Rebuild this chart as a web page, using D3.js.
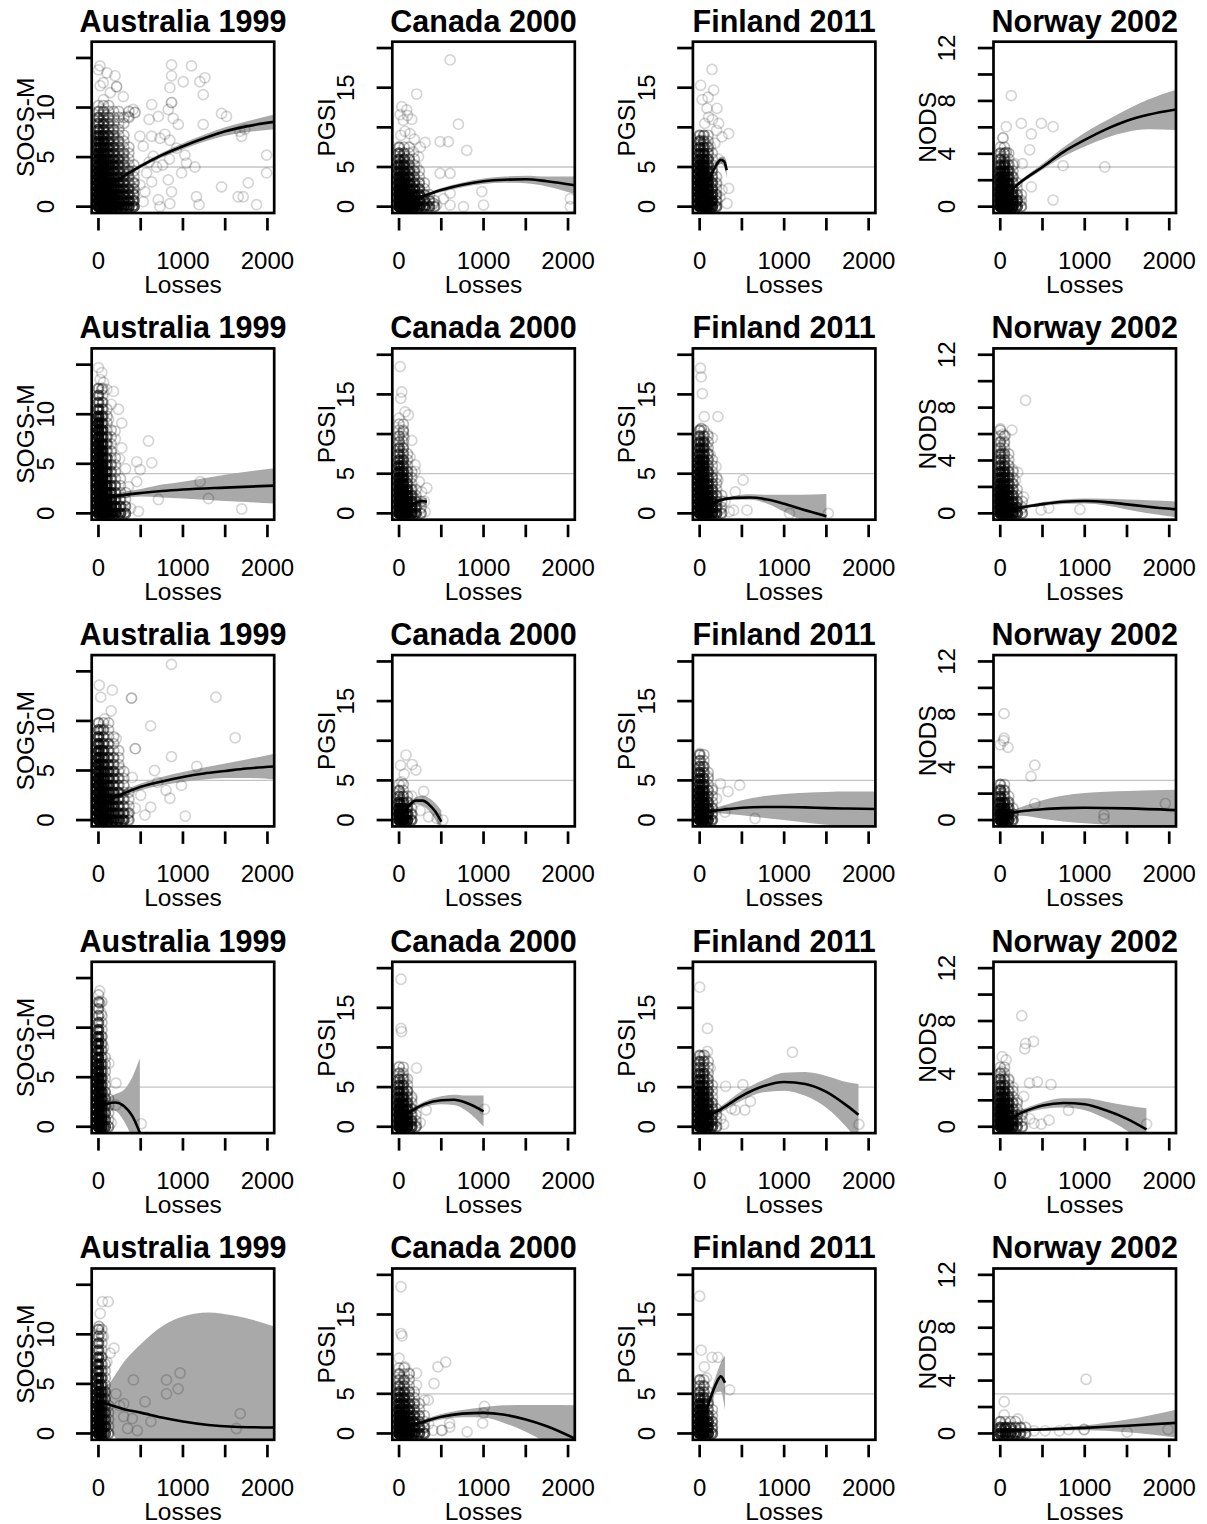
<!DOCTYPE html>
<html>
<head>
<meta charset="utf-8">
<script src="https://cdn.jsdelivr.net/npm/d3@7"></script>
<style>
  body { margin: 0; background: #fff; }
  text { font-family: "Liberation Sans", Arial, sans-serif; fill: #000; }
</style>
</head>
<body>
<div id="chart"></div>
<script>
// ---- chart data ----
var countries = ["Australia 1999", "Canada 2000", "Finland 2011", "Norway 2002"];
var scaleNames = ["SOGS-M", "PGSI", "PGSI", "NODS"];
var scaleMax = [16, 20, 20, 12];
var scaleCutoff = [4, 5, 5, 3];
var xRange = [0, 2000];
var xTicks = [0, 500, 1000, 1500, 2000];
var xTickLabels = [0, 1000, 2000];
var yTicks = [[0, 5, 10, 15], [0, 5, 10, 15, 20], [0, 5, 10, 15, 20], [0, 2, 4, 6, 8, 10, 12]];
var yTickLabels = [[0, 5, 10], [0, 5, 15], [0, 5, 15], [0, 4, 8, 12]];

// scattered respondents: [losses, score, count]
var pointsRow1 = [
  [[18,14.2,1],[57,12.5,1],[196,13.2,1],[215,12.1,2],[294,11.1,1],[865,14.3,1],[865,13.2,1],[845,12,1],[1003,12.6,1],[1101,14.2,1],[1200,12.6,1],[1260,13,1],[1240,11.3,1],[630,10.3,1],[708,9.1,1],[865,10.5,2],[826,9.8,1],[885,8.9,1],[945,8.3,1],[786,7.3,1],[845,6.7,1],[925,5.9,1],[1023,5.2,1],[1042,4.4,1],[1141,4,1],[984,3.4,1],[826,2.7,1],[865,1.5,1],[845,0.3,1],[1160,1,1],[1190,0.2,1],[1457,9.4,1],[1516,9.1,1],[1674,7.6,1],[1694,7.1,1],[1733,7.8,1],[1457,2,1],[1654,1,1],[1713,1,1],[1773,2.4,1],[1871,0.2,1],[1990,5.2,1],[1990,3.4,1],[1240,8.3,1],[412,9.8,1],[353,9.1,1],[432,9.5,2],[491,7.1,1],[530,6.1,1],[630,7.1,1],[728,6.9,1],[648,5.1,1],[688,4,1],[569,3.4,1],[630,2.5,1],[491,2.2,1],[412,1.3,1],[530,0.5,1],[708,0.7,1],[728,0,1],[550,1.5,1],[600,4.5,1],[760,4.2,1],[840,4.8,1],[600,8.8,1],[0,13.8,1],[20,12.2,1],[100,13.5,1],[140,11.5,1],[60,10.8,1]],
  [[604,18.5,1],[209,14.2,1],[32,12.6,1],[91,12.2,1],[12,11.6,1],[51,10.9,1],[702,10.4,1],[584,8.2,1],[486,8.2,1],[308,8.1,1],[801,7.1,1],[130,9.2,1],[170,6.9,1],[229,6.3,1],[209,5,1],[486,4.2,1],[604,4.2,1],[604,1.7,1],[604,0.2,1],[762,0,1],[980,1.9,1],[1000,0.2,1],[525,1,1],[446,0.2,1],[407,0.4,2],[328,0.2,2],[2027,1,1],[2027,0,1],[150,11,1],[100,11.5,1],[70,9.5,1],[20,9,1],[180,8.5,1],[250,7.5,1]],
  [[146,17.3,1],[12,15.3,1],[166,14.7,1],[205,12.4,1],[87,12.4,1],[106,11.3,1],[225,10.5,1],[343,9.2,1],[264,8.8,1],[8,8.4,1],[126,7.6,1],[343,2.3,1],[264,2.1,1],[323,0.4,1],[200,9.6,1],[60,10.5,1],[150,11,1],[30,13.5,1],[100,13.8,1],[180,8,1],[220,6,1],[240,1.2,1],[200,2.8,1]],
  [[130,8.4,1],[71,6.05,1],[249,6.3,1],[486,6.3,1],[625,6.05,1],[368,5.5,1],[32,5.2,2],[348,4.3,1],[71,4.1,2],[51,3.25,2],[170,3.25,1],[261,3.25,1],[743,3.1,1],[1237,3,1],[368,1.5,1],[625,0.5,1],[229,0.4,1],[150,0.4,2],[130,2.5,1],[200,0.5,1]]
];
var pointsRow2 = [
  [[0,14.7,1],[39,14.2,1],[20,13.5,1],[39,12.5,2],[99,12.5,1],[60,13.2,1],[178,12.3,1],[237,10.5,1],[276,9.1,1],[197,8.3,1],[276,6.6,1],[592,7.3,1],[631,5.1,1],[454,5.2,1],[454,3.2,1],[493,4.4,1],[355,2.7,1],[237,2,1],[473,0.2,1],[710,1.4,1],[1203,3.2,1],[1302,1.5,1],[1696,0.44,1],[217,0.5,1],[300,0.4,1],[380,0.5,1],[150,11,1],[120,9.5,1],[200,7.5,1],[250,5.5,1],[320,4.5,1],[150,6.2,1]],
  [[12,18.5,1],[32,15.3,1],[20,14.5,1],[71,12.8,1],[110,12.4,1],[0,12,1],[51,10.3,2],[150,9.2,1],[60,9.5,1],[130,7.1,1],[190,6.1,1],[190,5.3,1],[328,3.2,1],[268,2.7,1],[308,0.2,1],[250,0.5,1],[200,1.8,1],[300,1.5,1],[240,4,1]],
  [[9,18.3,1],[18,17.2,1],[32,15.1,1],[55,12.2,1],[216,12.2,1],[18,10.7,2],[78,8.4,1],[124,7.4,1],[193,5.9,1],[216,4.2,1],[514,4.2,1],[422,2.7,1],[560,0.4,1],[400,0.4,1],[1064,0,1],[1523,0,1],[300,1.5,1],[250,0.5,1],[350,0.2,1],[150,9.5,1],[90,10,1]],
  [[299,8.55,1],[138,6.3,1],[0,6.4,1],[46,5.3,1],[23,4.5,2],[207,3.1,1],[276,1.25,1],[483,0.25,1],[575,0.4,1],[943,0.3,1],[115,2.1,1],[60,5.9,1],[30,6,1],[180,2.5,1],[250,0.3,1],[150,3.3,1],[100,3.6,1]]
];
var pointsRow3 = [
  [[864,15.7,1],[9,13.6,1],[27,12.4,1],[164,13.1,1],[391,12.3,2],[1391,12.4,1],[618,9.5,1],[1618,8.3,1],[73,10.2,1],[27,9.1,2],[209,8.2,1],[436,7.2,2],[864,6.4,1],[255,5.2,1],[664,5,1],[982,3.5,1],[1164,5.4,1],[800,3,1],[845,2.2,1],[618,1.3,1],[1027,0.4,1],[436,1.2,1],[350,0.3,1],[500,2.5,1],[300,3.5,1],[150,11,1],[400,4.3,1],[550,0.5,1],[700,3.8,1]],
  [[82,8.2,1],[18,6.9,1],[155,7,1],[200,6.3,1],[60,5.8,1],[30,4.8,1],[0,3.6,1],[291,3.6,1],[20,2,1],[518,0,1],[250,1.2,1],[350,0.4,1],[150,3,1],[450,0.2,1]],
  [[0,8.4,1],[10,7.5,1],[36,6.7,1],[245,4.6,1],[473,4.4,1],[336,3.6,1],[200,2.7,1],[655,0.2,1],[100,5.5,1],[150,4,1],[60,2.2,1],[300,1,1]],
  [[45,8.05,1],[45,6.2,1],[0,5.7,1],[91,5.5,1],[409,4.15,1],[364,3.3,1],[0,2.3,2],[91,1.25,1],[409,1.25,1],[1227,0.4,1],[1227,0.1,1],[1954,1.25,1],[40,6,1],[150,0.3,1]]
];
var pointsRow4 = [
  [[14,13.7,1],[14,12.5,2],[124,6.4,1],[207,4.4,1],[207,2.2,1],[506,0.3,1],[150,0.4,1],[30,11.5,1],[60,8,1]],
  [[23,18.6,1],[23,12.4,1],[30,12,1],[207,7.4,1],[0,7.6,1],[40,6.5,1],[322,2.1,1],[1011,2.2,1],[207,0.2,1],[150,3.5,1],[250,0.5,1],[100,4.5,1],[70,6,1]],
  [[0,17.6,1],[92,12.4,1],[1098,9.4,1],[92,9.5,1],[124,7.4,1],[307,5.1,1],[512,5.3,1],[375,2.3,1],[420,2.1,1],[535,2.1,1],[600,3.2,1],[284,0.3,1],[1885,0.3,1],[200,1.5,1],[150,2.5,1],[60,9,1],[30,8.9,1],[100,5.5,1],[250,1,1]],
  [[254,8.4,1],[300,6.3,1],[393,6.45,1],[290,5.9,1],[23,5.3,1],[69,5.05,1],[20,4.2,1],[346,3.3,1],[439,3.4,1],[600,3.2,1],[277,2.3,1],[808,1.25,1],[485,0.2,1],[577,0.5,1],[400,0.25,1],[1732,0.2,1],[150,3,1],[200,2,1],[350,0.6,1],[250,1,1],[100,3.5,1]]
];
var pointsRow5 = [
  [[46,13.3,1],[115,13.3,1],[20,12.1,1],[5,10.8,2],[20,10.1,1],[60,9.8,1],[184,8.6,1],[138,8.1,1],[100,7.2,1],[414,5.4,1],[805,5.4,1],[966,6.1,1],[943,4.5,1],[805,4,1],[552,3.2,1],[621,1.2,1],[299,1.7,1],[345,0.5,1],[460,0.3,1],[1632,0.5,1],[1678,2,1],[207,4,1],[250,2.8,1],[400,1.5,1],[300,3,1]],
  [[23,18.5,1],[23,12.6,1],[35,12.3,1],[0,9.5,1],[69,8.4,1],[120,7.6,1],[552,9,1],[460,8.4,1],[207,7.6,1],[414,6.3,1],[207,6.1,1],[300,4.2,1],[345,4.2,1],[1011,3.4,1],[989,1.3,1],[598,1.3,1],[805,0.2,1],[506,0.4,2],[400,0.4,1],[600,0.8,1],[350,1.2,1],[1000,2.6,1]],
  [[0,17.3,1],[18,10.5,1],[55,8.4,1],[147,9.6,1],[216,9.6,1],[120,2.1,1],[355,5.5,1],[150,0.4,1],[80,7,1],[100,4,1]],
  [[46,2.4,1],[46,1.4,1],[208,1.1,1],[1016,4.1,1],[531,0.2,1],[808,0.3,1],[993,0.3,2],[1501,0.1,1],[1986,0.3,1],[700,0.2,1],[400,0.2,1]]
];

// overplotted cores near zero losses: respondent counts on a losses x score grid
var denseRow1 = [
  {xs: [0,60,120,180,240,300,360,420], ys: [0,0.6,1.2,1.8,2.4,3,3.6,4.2,4.8,5.4,6,6.6,7.2,7.8,8.4,9,9.6,10.2],
   counts: [[12,12,12,10,8,6,5,4],[12,12,10,8,6,5,4,3],[12,12,10,8,6,4,3,2],[12,10,8,6,5,4,3,2],[10,10,8,6,4,3,2,2],[10,8,6,5,4,3,2,1],[10,8,6,4,3,2,2,1],[8,8,6,4,3,2,1,1],[8,6,5,4,3,2,1,0],[8,6,4,3,2,2,1,0],[6,6,4,3,2,1,1,0],[6,5,3,2,2,1,0,0],[5,4,3,2,1,1,0,0],[4,3,2,2,1,0,0,0],[3,3,2,1,1,1,0,0],[3,2,2,1,1,1,1,0],[2,2,1,1,1,0,1,0],[1,1,1,0,0,0,0,0]]},
  {xs: [0,60,120,180,240,300,360,420], ys: [0,0.75,1.5,2.25,3,3.75,4.5,5.25,6,6.75,7.5],
   counts: [[12,12,12,10,6,4,3,2],[12,12,10,8,5,3,2,1],[12,12,8,6,4,2,1,0],[12,10,6,4,3,1,0,0],[10,8,5,3,2,1,0,0],[8,6,4,2,1,0,0,0],[6,5,3,2,1,0,0,0],[5,4,2,1,0,0,0,0],[4,3,2,1,0,0,0,0],[3,2,1,0,0,0,0,0],[2,1,1,0,0,0,0,0]]},
  {xs: [0,50,100,150,200], ys: [0,0.75,1.5,2.25,3,3.75,4.5,5.25,6,6.75,7.5,8.25,9],
   counts: [[12,12,10,6,3],[12,12,10,5,2],[12,12,8,4,2],[12,10,6,3,1],[12,10,6,3,1],[10,8,5,2,1],[10,8,4,2,0],[8,6,3,1,0],[6,5,3,1,0],[5,4,2,1,0],[4,3,2,0,0],[3,2,1,0,0],[2,2,1,0,0]]},
  {xs: [0,50,100,150,200,250], ys: [0,0.45,0.9,1.35,1.8,2.25,2.7,3.15,3.6,4.05,4.5],
   counts: [[12,12,12,8,4,2],[12,12,10,6,3,1],[12,12,8,4,2,1],[12,10,6,3,1,0],[10,8,5,2,1,0],[8,6,4,2,0,0],[6,5,3,1,0,0],[4,4,2,1,0,0],[3,2,1,0,0,0],[2,2,1,0,0,0],[1,1,0,0,0,0]]}
];
var denseRow2 = [
  {xs: [0,50,100,150,200,260,320], ys: [0,0.7,1.4,2.1,2.8,3.5,4.2,4.9,5.6,6.3,7,7.7,8.4,9.1,9.8,10.5,11.2,11.9,12.6],
   counts: [[12,12,10,8,6,4,3],[12,12,10,6,4,3,2],[12,12,8,5,3,2,1],[12,12,6,4,2,1,1],[12,10,5,3,2,1,0],[12,10,4,2,1,1,0],[12,8,4,2,1,0,0],[12,8,3,2,1,0,0],[10,6,3,1,1,0,0],[10,6,2,1,0,0,0],[10,5,2,1,0,0,0],[8,4,2,1,0,0,0],[8,4,1,1,0,0,0],[8,3,1,0,0,0,0],[6,3,1,0,0,0,0],[4,2,1,0,0,0,0],[3,2,0,0,0,0,0],[3,1,0,0,0,0,0],[2,1,0,0,0,0,0]]},
  {xs: [0,50,100,150,200,260], ys: [0,0.75,1.5,2.25,3,3.75,4.5,5.25,6,6.75,7.5,8.25,9,9.75,10.5,11.25],
   counts: [[12,12,10,6,4,2],[12,12,8,5,3,1],[12,12,6,4,2,1],[12,10,5,3,1,0],[12,8,4,2,1,0],[10,6,3,1,0,0],[8,5,2,1,0,0],[6,4,2,1,0,0],[5,3,1,0,0,0],[4,3,1,0,0,0],[3,2,1,0,0,0],[3,2,0,0,0,0],[2,1,0,0,0,0],[2,1,0,0,0,0],[1,1,0,0,0,0],[1,1,0,0,0,0]]},
  {xs: [0,50,100,150,200,260], ys: [0,0.75,1.5,2.25,3,3.75,4.5,5.25,6,6.75,7.5,8.25,9,9.75,10.5],
   counts: [[12,12,10,6,4,2],[12,12,10,5,3,1],[12,12,8,4,2,1],[12,12,6,3,2,1],[12,10,5,3,1,0],[12,8,4,2,1,0],[10,8,3,2,1,0],[10,6,3,1,0,0],[8,6,2,1,0,0],[8,5,2,1,0,0],[6,4,2,0,0,0],[5,4,1,0,0,0],[4,3,1,0,0,0],[3,2,1,0,0,0],[2,1,0,0,0,0]]},
  {xs: [0,50,100,150,200,260], ys: [0,0.45,0.9,1.35,1.8,2.25,2.7,3.15,3.6,4.05,4.5,4.95,5.4,5.85,6.3],
   counts: [[12,12,10,6,4,2],[12,12,8,5,3,1],[12,10,6,4,2,1],[12,10,5,3,1,0],[10,8,4,2,1,0],[8,6,3,2,0,0],[6,5,3,1,0,0],[5,4,2,1,0,0],[4,3,1,0,0,0],[3,2,1,0,0,0],[3,2,1,0,0,0],[2,1,0,0,0,0],[2,1,0,0,0,0],[1,1,0,0,0,0],[1,0,0,0,0,0]]}
];
var denseRow3 = [
  {xs: [0,60,120,180,240,300,360], ys: [0,0.7,1.4,2.1,2.8,3.5,4.2,4.9,5.6,6.3,7,7.7,8.4,9.1,9.8],
   counts: [[12,12,8,6,5,4,2],[12,10,7,5,4,3,2],[12,10,6,5,3,2,1],[12,8,6,4,3,2,1],[10,8,5,4,3,1,1],[10,7,5,3,2,1,0],[10,6,4,3,2,1,0],[8,6,4,3,1,1,0],[8,5,3,2,1,0,0],[7,4,3,2,1,0,0],[6,4,2,1,1,0,0],[5,3,2,1,0,0,0],[4,2,1,1,0,0,0],[3,2,1,0,0,0,0],[2,1,1,0,0,0,0]]},
  {xs: [0,50,100,150], ys: [0,0.75,1.5,2.25,3,3.75,4.5],
   counts: [[12,10,6,3],[12,8,4,2],[8,6,3,1],[5,3,2,0],[3,2,1,0],[2,1,0,0],[1,1,0,0]]},
  {xs: [0,50,100,150], ys: [0,0.75,1.5,2.25,3,3.75,4.5,5.25,6,6.75,7.5,8.25],
   counts: [[12,10,6,3],[12,8,5,2],[12,8,4,2],[10,6,3,1],[10,5,2,1],[8,4,2,1],[6,4,1,0],[5,3,1,0],[4,2,1,0],[3,2,0,0],[2,1,0,0],[2,1,0,0]]},
  {xs: [0,50,100,150], ys: [0,0.45,0.9,1.35,1.8,2.25,2.7],
   counts: [[12,10,6,3],[12,8,5,2],[8,6,3,1],[6,4,2,0],[4,2,1,0],[3,2,0,0],[2,1,0,0]]}
];
var denseRow4 = [
  {xs: [0,40,80,120], ys: [0,0.7,1.4,2.1,2.8,3.5,4.2,4.9,5.6,6.3,7,7.7,8.4,9.1,9.8,10.5,11.2,11.9,12.6,13.3],
   counts: [[12,8,4,2],[12,8,3,1],[12,6,3,1],[12,6,2,1],[12,5,2,1],[10,5,2,0],[10,4,1,0],[10,4,1,0],[8,3,1,0],[8,3,1,0],[7,2,1,0],[6,2,0,0],[6,2,0,0],[5,2,0,0],[4,1,0,0],[3,1,0,0],[2,1,0,0],[2,0,0,0],[2,1,0,0],[1,0,0,0]]},
  {xs: [0,50,100,150,200], ys: [0,0.75,1.5,2.25,3,3.75,4.5,5.25,6,6.75,7.5],
   counts: [[12,12,8,4,2],[12,10,6,3,1],[12,8,5,2,1],[10,6,4,2,0],[8,5,3,1,0],[6,4,2,1,0],[5,3,2,0,0],[4,3,1,0,0],[3,2,1,0,0],[2,1,0,0,0],[1,1,0,0,0]]},
  {xs: [0,50,100,150,200], ys: [0,0.75,1.5,2.25,3,3.75,4.5,5.25,6,6.75,7.5,8.25,9],
   counts: [[12,12,8,4,2],[12,10,6,3,1],[12,10,5,3,1],[10,8,4,2,1],[10,6,4,2,0],[8,6,3,1,0],[8,5,3,1,0],[6,4,2,1,0],[5,3,2,0,0],[4,3,1,0,0],[3,2,1,0,0],[3,2,1,0,0],[2,1,0,0,0]]},
  {xs: [0,50,100,150,200,260], ys: [0,0.45,0.9,1.35,1.8,2.25,2.7,3.15,3.6,4.05,4.5],
   counts: [[12,12,10,6,3,2],[12,12,8,5,2,1],[12,10,6,3,2,1],[10,8,5,2,1,0],[8,6,4,2,1,0],[6,5,3,1,0,0],[5,4,2,1,0,0],[4,3,1,0,0,0],[3,2,1,0,0,0],[2,1,0,0,0,0],[1,1,0,0,0,0]]}
];
var denseRow5 = [
  {xs: [0,40,80,120], ys: [0,0.7,1.4,2.1,2.8,3.5,4.2,4.9,5.6,6.3,7,7.7,8.4,9.1,9.8,10.5],
   counts: [[12,8,4,2],[12,8,4,1],[12,6,3,1],[10,6,3,1],[10,5,2,1],[8,4,2,0],[8,4,2,0],[7,3,1,0],[6,3,1,0],[5,2,1,0],[5,2,1,0],[4,2,0,0],[3,1,0,0],[3,1,0,0],[2,1,0,0],[2,1,0,0]]},
  {xs: [0,60,120,180,240,300], ys: [0,0.75,1.5,2.25,3,3.75,4.5,5.25,6,6.75,7.5,8.25],
   counts: [[12,12,10,6,4,3],[12,10,8,5,3,2],[12,10,6,4,2,1],[10,8,5,3,2,1],[8,6,4,2,1,0],[6,5,3,2,1,0],[5,4,2,1,0,0],[4,3,2,1,0,0],[3,2,1,0,0,0],[2,2,1,0,0,0],[2,1,1,0,0,0],[1,1,0,0,0,0]]},
  {xs: [0,50,100,150], ys: [0,0.75,1.5,2.25,3,3.75,4.5,5.25,6,6.75],
   counts: [[12,10,6,3],[12,10,5,2],[12,8,4,2],[10,6,3,1],[8,5,2,1],[6,4,2,0],[4,3,1,0],[3,2,1,0],[2,2,0,0],[2,1,0,0]]},
  {xs: [0,60,120,180,240,300], ys: [0,0.45,0.9],
   counts: [[6,6,5,4,3,2],[4,4,3,2,2,1],[2,1,1,1,0,0]]}
];

// fitted curves: [losses, fit, lower, upper]
var fitsRow1 = [
  [[0,1.2,1.0,1.4],[250,2.8,2.6,3.0],[500,4.1,3.9,4.3],[750,5.2,4.95,5.45],[1000,6.1,5.8,6.4],[1250,6.9,6.55,7.25],[1500,7.6,7.15,8.0],[1750,8.1,7.5,8.6],[2080,8.55,7.8,9.3]],
  [[0,0.3,0.1,0.5],[250,1.2,1.0,1.4],[500,2.1,1.85,2.35],[750,2.75,2.45,3.05],[1000,3.2,2.85,3.55],[1250,3.4,3.0,3.8],[1500,3.45,2.95,3.9],[1750,3.2,2.55,3.8],[2080,2.7,1.6,3.8]],
  [[0,0.0,-0.5,0.5],[50,1.5,1.1,1.9],[100,3.0,2.6,3.4],[150,4.3,3.9,4.7],[200,5.3,4.9,5.7],[250,5.9,5.4,6.3],[290,5.7,5.0,6.3],[320,4.6,3.6,5.6]],
  [[0,0.5,0.4,0.6],[250,1.9,1.75,2.05],[500,3.0,2.8,3.25],[750,4.15,3.8,4.5],[1000,5.05,4.55,5.6],[1250,5.85,5.2,6.5],[1500,6.5,5.65,7.35],[1750,6.95,5.85,8.1],[2080,7.35,5.8,8.85]]
];
var fitsRow2 = [
  [[0,1.35,1.05,1.65],[150,1.65,1.4,1.9],[300,1.85,1.55,2.15],[500,2.05,1.7,2.45],[750,2.25,1.6,2.9],[1000,2.4,1.5,3.2],[1500,2.6,1.25,3.9],[2080,2.8,1.0,4.55]],
  [[0,0.1,-0.2,0.4],[100,0.8,0.5,1.1],[200,1.35,1.05,1.65],[270,1.55,1.2,1.9],[330,1.45,1.0,1.9]],
  [[0,0.4,0.2,0.6],[200,1.5,1.3,1.7],[400,1.95,1.7,2.2],[600,2.0,1.7,2.4],[800,1.75,1.2,2.35],[1000,1.2,0.2,2.35],[1200,0.55,-0.8,2.35],[1500,-0.35,-1.5,2.45]],
  [[0,0.25,0.15,0.35],[250,0.45,0.35,0.55],[500,0.7,0.55,0.85],[750,0.88,0.7,1.05],[1000,0.93,0.75,1.12],[1250,0.85,0.6,1.1],[1500,0.68,0.3,1.05],[1750,0.5,0.0,1.0],[2080,0.3,-0.3,0.9]]
];
var fitsRow3 = [
  [[0,1.5,1.2,1.8],[250,2.5,2.2,2.8],[500,3.35,3.0,3.7],[750,3.9,3.5,4.35],[1000,4.35,3.85,4.85],[1250,4.7,4.1,5.3],[1500,4.95,4.25,5.7],[1750,5.2,4.25,6.1],[2080,5.4,4.1,6.7]],
  [[0,0.1,-0.1,0.3],[100,1.6,1.3,1.9],[200,2.45,2.0,2.9],[280,2.45,1.8,3.1],[350,2.0,1.2,2.8],[420,1.2,0.2,2.2],[500,-0.2,-1.6,1.2]],
  [[0,0.85,0.7,1.0],[150,1.15,0.85,1.45],[300,1.35,0.8,1.9],[500,1.55,0.6,2.5],[750,1.65,0.3,3.0],[1000,1.65,0.0,3.3],[1250,1.6,-0.3,3.45],[1500,1.5,-0.6,3.55],[1750,1.45,-0.8,3.6],[2080,1.4,-1.0,3.6]],
  [[0,0.25,0.15,0.4],[150,0.55,0.35,0.75],[300,0.7,0.3,1.1],[500,0.82,0.1,1.5],[750,0.9,-0.1,1.85],[1000,0.93,-0.25,2.05],[1500,0.88,-0.45,2.2],[2080,0.75,-0.8,2.3]]
];
var fitsRow4 = [
  [[0,1.85,1.3,2.4],[100,2.3,1.7,2.9],[200,2.45,1.6,3.3],[300,2.1,0.6,3.7],[400,1.1,-1.2,5.0],[490,-0.6,-3.5,6.9]],
  [[0,0.6,0.3,0.9],[150,2.0,1.7,2.3],[300,2.85,2.5,3.2],[500,3.35,2.85,3.85],[650,3.4,2.75,4.05],[800,3.0,2.0,3.95],[1000,1.95,0.0,3.95]],
  [[0,0.85,0.55,1.15],[250,2.2,1.8,2.6],[500,3.9,3.3,4.5],[750,5.1,4.35,5.85],[1000,5.65,4.55,6.8],[1250,5.4,3.9,6.9],[1500,4.4,2.4,6.4],[1750,2.6,-0.2,5.6],[1880,1.5,-2.0,5.4]],
  [[0,0.25,0.1,0.4],[250,1.05,0.85,1.25],[500,1.6,1.35,1.85],[750,1.8,1.45,2.15],[1000,1.7,1.25,2.15],[1250,1.25,0.6,1.9],[1500,0.6,-0.3,1.6],[1730,-0.2,-1.5,1.4]]
];
var fitsRow5 = [
  [[0,2.2,1.2,3.2],[40,3.1,2.0,4.2],[150,2.85,0.2,5.3],[300,2.45,-1.5,7.2],[500,2.1,-3.0,9.0],[750,1.6,-4.0,10.8],[1000,1.2,-4.5,11.8],[1300,0.85,-5,12.2],[1600,0.68,-5,11.9],[2080,0.6,-5,10.8]],
  [[0,0.6,0.4,0.8],[250,1.35,1.1,1.6],[500,2.1,1.75,2.45],[750,2.5,2.05,2.95],[1000,2.6,2.0,3.3],[1250,2.35,1.3,3.55],[1500,1.75,0.2,3.6],[1750,0.9,-1.2,3.6],[2080,-0.65,-3.5,3.55]],
  [[0,-0.1,-0.6,0.4],[50,1.9,1.4,2.4],[100,3.6,3.0,4.2],[150,5.1,4.3,5.9],[200,6.4,5.2,7.5],[250,7.2,5.3,8.9],[300,6.4,3.0,9.8]],
  [[0,0.2,0.1,0.3],[500,0.3,0.2,0.42],[1000,0.42,0.25,0.6],[1500,0.58,0.1,1.05],[2080,0.8,-0.3,1.8]]
];

var allPoints = [pointsRow1, pointsRow2, pointsRow3, pointsRow4, pointsRow5];
var allDense = [denseRow1, denseRow2, denseRow3, denseRow4, denseRow5];
var allFits = [fitsRow1, fitsRow2, fitsRow3, fitsRow4, fitsRow5];

// ---- layout ----
var width = 1207, height = 1524;
var colStep = 300.6, rowStep = 306.7;
var box = {left: 91.7, top: 41.7, width: 182.5, height: 171.3};
var alpha = 0.17;
var outerR = 5.9;

var svg = d3.select("#chart").append("svg")
    .attr("width", width)
    .attr("height", height);

svg.append("rect").attr("width", width).attr("height", height).attr("fill", "#fff");

allPoints.forEach(function(rowPts, r) {
    rowPts.forEach(function(pts, c) {
        drawPanel(r, c, pts, allDense[r][c], allFits[r][c]);
    });
});

// turn a count grid into [losses, score, count, isCore] marks
function gridToPoints(grid) {
    var out = [];
    grid.ys.forEach(function(yv, j) {
        grid.xs.forEach(function(xv, i) {
            var n = grid.counts[j][i];
            if (n > 0) out.push([xv, yv, n, true]);
        });
    });
    return out;
}

// core piles: darker, thicker ring with the same outer edge
function ringWidth(d) {
    return d[3] ? Math.min(1.7 + 0.5 * (d[2] - 1), outerR) : 1.7;
}
function ringOpacity(d) {
    var k = d[3] ? 1.7 * d[2] : d[2];
    return 1 - Math.pow(1 - alpha, k);
}

function drawPanel(r, c, pts, dense, fit) {
    var g = svg.append("g")
        .attr("transform", "translate(" + (c * colStep) + "," + (r * rowStep) + ")");

    var span = xRange[1] - xRange[0];
    var x = d3.scaleLinear()
        .domain([xRange[0] - 0.04 * span, xRange[1] + 0.04 * span])
        .range([box.left, box.left + box.width]);
    var ymax = scaleMax[c];
    var y = d3.scaleLinear()
        .domain([-0.04 * ymax, 1.04 * ymax])
        .range([box.top + box.height, box.top]);

    var clipId = "clip-" + r + "-" + c;
    g.append("clipPath").attr("id", clipId)
      .append("rect")
        .attr("x", box.left).attr("y", box.top)
        .attr("width", box.width).attr("height", box.height);

    var inner = g.append("g").attr("clip-path", "url(#" + clipId + ")");

    // cutoff line
    inner.append("line")
        .attr("x1", box.left).attr("x2", box.left + box.width)
        .attr("y1", y(scaleCutoff[c])).attr("y2", y(scaleCutoff[c]))
        .attr("stroke", "#c4c4c4")
        .attr("stroke-width", 1.3);

    // confidence band
    inner.append("path")
        .datum(fit)
        .attr("fill", "#a9a9a9")
        .attr("d", d3.area()
            .x(function(d) { return x(d[0]); })
            .y0(function(d) { return y(d[2]); })
            .y1(function(d) { return y(d[3]); })
            .curve(d3.curveMonotoneX));

    // points: dense core first, then scattered ones
    var marks = gridToPoints(dense).concat(pts);
    inner.selectAll("circle")
        .data(marks)
        .join("circle")
        .attr("cx", function(d) { return x(d[0]); })
        .attr("cy", function(d) { return y(d[1]); })
        .attr("r", function(d) { return outerR - ringWidth(d) / 2; })
        .attr("fill", "none")
        .attr("stroke", "#000")
        .attr("stroke-width", function(d) { return ringWidth(d); })
        .attr("stroke-opacity", function(d) { return ringOpacity(d); });

    // fitted line
    inner.append("path")
        .datum(fit)
        .attr("fill", "none")
        .attr("stroke", "#000")
        .attr("stroke-width", 2.6)
        .attr("d", d3.line()
            .x(function(d) { return x(d[0]); })
            .y(function(d) { return y(d[1]); })
            .curve(d3.curveMonotoneX));

    // frame
    g.append("rect")
        .attr("x", box.left).attr("y", box.top)
        .attr("width", box.width).attr("height", box.height)
        .attr("fill", "none")
        .attr("stroke", "#000")
        .attr("stroke-width", 2.7);

    // x axis
    g.selectAll(".xtick")
        .data(xTicks)
        .join("line")
        .attr("class", "xtick")
        .attr("x1", function(d) { return x(d); })
        .attr("x2", function(d) { return x(d); })
        .attr("y1", 218).attr("y2", 230.5)
        .attr("stroke", "#000")
        .attr("stroke-width", 2.7);

    g.selectAll(".xlab")
        .data(xTickLabels)
        .join("text")
        .attr("class", "xlab")
        .attr("x", function(d) { return x(d); })
        .attr("y", 269)
        .attr("text-anchor", "middle")
        .style("font-size", "24px")
        .text(function(d) { return d; });

    g.append("text")
        .attr("x", box.left + box.width / 2)
        .attr("y", 293)
        .attr("text-anchor", "middle")
        .style("font-size", "24.5px")
        .text("Losses");

    // y axis
    g.selectAll(".ytick")
        .data(yTicks[c])
        .join("line")
        .attr("class", "ytick")
        .attr("x1", 76).attr("x2", box.left)
        .attr("y1", function(d) { return y(d); })
        .attr("y2", function(d) { return y(d); })
        .attr("stroke", "#000")
        .attr("stroke-width", 2.7);

    g.selectAll(".ylab")
        .data(yTickLabels[c])
        .join("text")
        .attr("class", "ylab")
        .attr("transform", function(d) { return "translate(53.5," + y(d) + ") rotate(-90)"; })
        .attr("text-anchor", "middle")
        .style("font-size", "24px")
        .text(function(d) { return d; });

    g.append("text")
        .attr("transform", "translate(34," + (box.top + box.height / 2) + ") rotate(-90)")
        .attr("text-anchor", "middle")
        .style("font-size", "24.5px")
        .text(scaleNames[c]);

    // title
    g.append("text")
        .attr("x", box.left + box.width / 2)
        .attr("y", 31.7)
        .attr("text-anchor", "middle")
        .style("font-size", "30.5px")
        .style("font-weight", "bold")
        .text(countries[c]);
}
</script>
</body>
</html>
